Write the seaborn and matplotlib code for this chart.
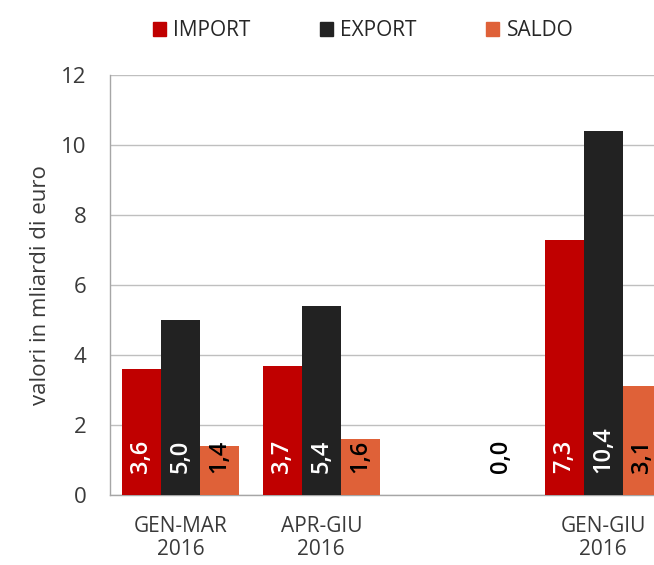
import numpy as np
import pandas as pd
import matplotlib
matplotlib.use("Agg")
import matplotlib.pyplot as plt
import seaborn as sns

# dati (miliardi di euro)
periodi = ["GEN-MAR\n2016", "APR-GIU\n2016", " ", "GEN-GIU\n2016"]
serie = ["IMPORT", "EXPORT", "SALDO"]
importo = [3.6, 3.7, np.nan, 7.3]
esporto = [5.0, 5.4, np.nan, 10.4]
saldo = [1.4, 1.6, 0.0, 3.1]
colori = ["#C00000", "#222222", "#DF6138"]
col_etichette = ["white", "white", "black"]

sns.set_style("white")
plt.rcParams["font.family"] = ["Open Sans", "DejaVu Sans"]
testo = "#3A3A3A"

df = pd.DataFrame({
    "periodo": periodi * 3,
    "serie": [s for s in serie for _ in periodi],
    "valore": importo + esporto + saldo,
})

fig = plt.figure(figsize=(6.54, 5.65), dpi=100)
ax = fig.add_axes([0.168, 0.124, 0.862, 0.743])

sns.barplot(data=df, x="periodo", y="valore", hue="serie", order=periodi,
            hue_order=serie, palette=colori, width=0.83, gap=0,
            saturation=1, errorbar=None, linewidth=0, ax=ax, zorder=3)

# etichette dei valori alla base delle barre
for cont, c in zip(ax.containers, col_etichette):
    for bar in cont:
        h = bar.get_height()
        if np.isnan(h):
            continue
        x = bar.get_x() + bar.get_width() / 2
        ax.text(x, 0.62, f"{h:.1f}".replace(".", ","), rotation=90,
                ha="center", va="bottom", color=c, fontsize=17,
                fontweight="semibold", zorder=4)

ax.set_ylim(0, 12)
ax.set_xlim(-0.5, 3.5)
ax.set_yticks(range(0, 13, 2))
ax.yaxis.grid(True, color="#BFBFBF", linewidth=1, zorder=0)
ax.set_axisbelow(True)

# tacche sui confini delle categorie, etichette al centro
ax.set_xticks([-0.5, 0.5, 1.5, 2.5, 3.5])
ax.set_xticklabels([])
ax.set_xticks(range(len(periodi)), minor=True)
ax.set_xticklabels(periodi, minor=True, fontsize=15, color=testo,
                   linespacing=1.15)
ax.tick_params(axis="x", which="major", length=5, color="#A6A6A6", width=1)
ax.tick_params(axis="x", which="minor", length=0, pad=15)
ax.tick_params(axis="y", length=7, color="#A6A6A6", width=1, labelsize=16,
               labelcolor=testo, pad=10)
ax.set_xlabel("")
ax.set_ylabel("valori in mliardi di euro", fontsize=16, color=testo,
              labelpad=7)

for side in ["top", "right"]:
    ax.spines[side].set_visible(False)
for side in ["left", "bottom"]:
    ax.spines[side].set_color("#A6A6A6")
    ax.spines[side].set_linewidth(1)

ax.legend_.remove()
handles = [plt.Rectangle((0, 0), 1, 1, color=c) for c in colori]
fig.legend(handles, serie, loc="center", bbox_to_anchor=(0.555, 0.946),
           ncol=3, frameon=False, fontsize=15, handlelength=0.65,
           handleheight=0.65, handletextpad=0.35, columnspacing=3.3,
           labelcolor="#262626")

fig.savefig("out.png", dpi=100)
